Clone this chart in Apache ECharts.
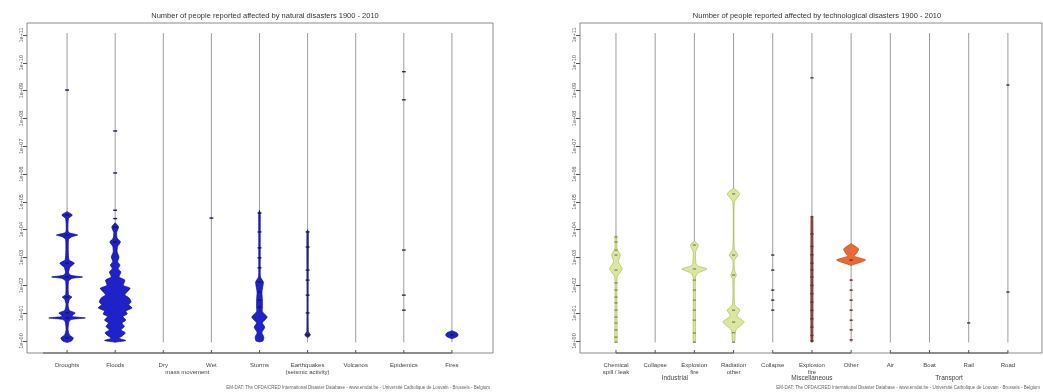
<!DOCTYPE html>
<html>
<head>
<meta charset="utf-8">
<script src="https://cdn.jsdelivr.net/npm/echarts@6/dist/echarts.min.js"></script>
<style>
  html, body { margin: 0; background: #fff; }
  #chart { width: 1043px; height: 392px; }
</style>
</head>
<body>
<div id="chart"></div>
<script>
// y axis is in decades (log10 of people affected), one tick per decade
const yTickValues = [0, 1, 2, 3, 4, 5, 6, 7, 8, 9, 10, 11];
const yTickLabels = ["1e+00", "1e+01", "1e+02", "1e+03", "1e+04", "1e+05",
  "1e+06", "1e+07", "1e+08", "1e+09", "1e+10", "1e+11"];

// ---- natural disasters ----
const natCategories = ["Droughts", "Floods", "Dry", "Wet", "Storms",
  "Earthquakes\n(seismic activity)", "Volcanos", "Epidemics", "Fires"];
const natSpanLabels = [{ from: 3, to: 4, name: "mass movement" }];
const natAxisGroups = [{ from: 0.5, to: 9, name: "" }];

// bean outlines: [level, half width as a share of the category spacing]
const natProfiles = [
  [[-0.05, 0], [0.0, 0.09], [0.11, 0.13], [0.22, 0.05], [0.4, 0.02], [0.7, 0.04], [0.78, 0.1],
   [0.83, 0.38], [0.88, 0.1], [0.95, 0.13], [1.01, 0.17], [1.1, 0.05], [1.3, 0.02], [1.5, 0.05],
   [1.58, 0.1], [1.66, 0.03], [2.15, 0.03], [2.25, 0.1], [2.3, 0.32], [2.36, 0.08], [2.45, 0.03],
   [2.65, 0.06], [2.8, 0.15], [2.92, 0.04], [3.65, 0.03], [3.75, 0.1], [3.81, 0.22], [3.88, 0.06],
   [3.95, 0.02], [4.4, 0.03], [4.53, 0.11], [4.65, 0]],
  [[-0.04, 0], [0.02, 0.22], [0.1, 0.08], [0.2, 0.16], [0.3, 0.21], [0.4, 0.12], [0.52, 0.19],
   [0.65, 0.14], [0.75, 0.22], [0.88, 0.16], [0.97, 0.25], [1.08, 0.22], [1.19, 0.35], [1.3, 0.28],
   [1.4, 0.33], [1.55, 0.29], [1.65, 0.2], [1.75, 0.24], [1.9, 0.31], [2.0, 0.17], [2.19, 0.2],
   [2.3, 0.08], [2.48, 0.12], [2.6, 0.06], [2.73, 0.1], [2.85, 0.05], [3.02, 0.08], [3.2, 0.04],
   [3.4, 0.05], [3.56, 0.11], [3.7, 0.04], [3.9, 0.03], [4.1, 0.07], [4.25, 0]],
  [],
  [],
  [[-0.03, 0], [0.0, 0.07], [0.14, 0.09], [0.3, 0.05], [0.5, 0.11], [0.65, 0.06], [0.86, 0.16],
   [1.05, 0.06], [1.22, 0.06], [1.47, 0.06], [1.76, 0.05], [2.12, 0.08], [2.3, 0.02], [2.63, 0.015],
   [2.99, 0.015], [3.35, 0.015], [3.92, 0.015], [4.6, 0.015], [4.7, 0]],
  [[0.12, 0], [0.22, 0.06], [0.35, 0.015], [3.92, 0.015], [4.0, 0]],
  [],
  [],
  [[0.08, 0], [0.15, 0.1], [0.22, 0.13], [0.3, 0.1], [0.37, 0]]
];
const natPoints = [
  [9.02, 4.53, 3.81, 2.8, 2.3, 1.58, 1.01, 0.83, 0.11],
  [7.55, 6.04, 4.7, 4.4, 4.1, 3.56],
  [],
  [4.42],
  [4.6, 3.92, 3.35, 2.99, 2.63, 2.12, 1.76, 1.47, 1.22],
  [3.92, 3.38, 2.55, 2.19, 1.65, 1.01, 0.22],
  [],
  [9.68, 8.67, 3.27, 1.65, 1.11],
  [0.22]
];
const natTones = ["blue", "blue", "blue", "blue", "blue", "navy", "blue", "grey", "blue"];

// ---- technological disasters ----
const techCategories = ["Chemical\nspill / leak", "Collapse", "Explosion\nfire", "Radiation\nother",
  "Collapse", "Explosion\nfire", "Other", "Air", "Boat", "Rail", "Road"];
const techAxisGroups = [
  { from: 1, to: 4, name: "Industrial" },
  { from: 5, to: 7, name: "Miscellaneous" },
  { from: 8, to: 11, name: "Transport" }
];
const techProfiles = [
  [[-0.05, 0], [0.0, 0.03], [2.3, 0.03], [2.59, 0.16], [2.85, 0.06], [3.09, 0.11], [3.3, 0.03],
   [3.74, 0.02], [3.8, 0]],
  [],
  [[-0.05, 0], [0.0, 0.03], [2.3, 0.03], [2.45, 0.1], [2.59, 0.32], [2.7, 0.08], [2.8, 0.04],
   [3.2, 0.03], [3.45, 0.1], [3.6, 0]],
  [[-0.05, 0], [0.0, 0.03], [0.4, 0.06], [0.68, 0.27], [0.9, 0.08], [1.11, 0.16], [1.3, 0.03],
   [2.2, 0.02], [2.37, 0.07], [2.55, 0.02], [2.9, 0.02], [3.09, 0.11], [3.3, 0.02], [5.0, 0.02],
   [5.29, 0.16], [5.5, 0]],
  [],
  [[-0.05, 0], [0.0, 0.025], [4.4, 0.025], [4.5, 0]],
  [[2.72, 0], [2.91, 0.37], [3.05, 0.08], [3.12, 0.12], [3.31, 0.19], [3.5, 0]],
  [],
  [],
  [],
  []
];
const techPoints = [
  [3.74, 3.56, 3.27, 3.09, 2.55, 2.09, 1.83, 1.58, 1.37, 1.11, 0.86, 0.65, 0.4, 0.14, -0.04],
  [],
  [3.45, 2.59, 2.19, 1.83, 1.47, 1.11, 0.75, 0.29, -0.04],
  [5.29, 3.09, 2.37, 1.11, 0.68, 0.3, -0.04],
  [3.09, 2.55, 1.83, 1.47, 1.11],
  [9.46, 4.46, 3.85, 3.4, 3.1, 2.8, 2.55, 2.3, 2.0, 1.7, 1.4, 1.1, 0.8, 0.5, 0.2, 0.0],
  [2.91, 2.19, 1.83, 1.47, 1.11, 0.75, 0.4, 0.04],
  [],
  [],
  [0.65],
  [9.2, 1.76]
];
const techTones = ["green", "green", "green", "green", "grey", "maroon", "orange",
  "grey", "grey", "grey", "grey"];

const TONES = {
  blue:   { fill: "#1f22c8", stroke: "#0b0b86", line: "#141466" },
  navy:   { fill: "#2a2a9a", stroke: "#1a1a66", line: "#1a1a44" },
  green:  { fill: "#dbe7a0", stroke: "#aabd52", line: "#7f8f6a" },
  grey:   { fill: "#777", stroke: "#555", line: "#333" },
  maroon: { fill: "#8a4a4a", stroke: "#6e3333", line: "#5a3535" },
  orange: { fill: "#ea6a35", stroke: "#c2401c", line: "#6b2a14" }
};

const Y_MIN = -0.43, Y_MAX = 11.43;
const STEM_TOP = 11.07, STEM_BOTTOM = -0.05;
const FONT = "Liberation Sans, Arial, sans-serif";

function beanRenderer(profiles, points, tones) {
  return function (params, api) {
    const i = params.dataIndex;
    const x = i + 1;
    const unit = api.size([1, 0])[0];
    const tone = TONES[tones[i]];
    const children = [];
    const t = api.coord([x, STEM_TOP]);
    const b = api.coord([x, STEM_BOTTOM]);
    children.push({
      type: "line",
      shape: { x1: t[0], y1: t[1], x2: b[0], y2: b[1] },
      style: { stroke: "#9c9c9c", lineWidth: 1 }
    });
    const prof = profiles[i];
    if (prof.length) {
      const left = prof.map(([lv, hw]) => {
        const p = api.coord([x, lv]);
        return [p[0] - hw * unit, p[1]];
      });
      const right = prof.map(([lv, hw]) => {
        const p = api.coord([x, lv]);
        return [p[0] + hw * unit, p[1]];
      }).reverse();
      children.push({
        type: "polygon",
        shape: { points: left.concat(right), smooth: 0.2 },
        style: { fill: tone.fill, stroke: tone.stroke, lineWidth: 0.7 }
      });
    }
    points[i].forEach((lv) => {
      const p = api.coord([x, lv]);
      children.push({
        type: "line",
        shape: { x1: p[0] - 0.04 * unit, y1: p[1], x2: p[0] + 0.04 * unit, y2: p[1] },
        style: { stroke: tone.line, lineWidth: 1.4 }
      });
    });
    return { type: "group", children };
  };
}

// separate axis lines under groups of categories, with a group caption
function groupAxisRenderer(groups, labelY) {
  return function (params, api) {
    const g = groups[params.dataIndex];
    const a = api.coord([g.from, Y_MIN]);
    const z = api.coord([g.to, Y_MIN]);
    const children = [{
      type: "line",
      shape: { x1: a[0], y1: a[1], x2: z[0], y2: z[1] },
      style: { stroke: "#555", lineWidth: 1 }
    }];
    for (let k = Math.ceil(g.from); k <= g.to; k++) {
      const p = api.coord([k, Y_MIN]);
      children.push({
        type: "line",
        shape: { x1: p[0], y1: p[1], x2: p[0], y2: p[1] - 3 },
        style: { stroke: "#555", lineWidth: 1 }
      });
    }
    if (g.name) {
      children.push({
        type: "text",
        style: {
          text: g.name, x: (a[0] + z[0]) / 2, y: labelY,
          align: "center", verticalAlign: "middle",
          fontSize: 6.5, fill: "#444", fontFamily: FONT
        }
      });
    }
    return { type: "group", children };
  };
}

function spanLabelRenderer(spans, labelY) {
  return function (params, api) {
    const s = spans[params.dataIndex];
    const a = api.coord([s.from, Y_MIN]);
    const z = api.coord([s.to, Y_MIN]);
    return {
      type: "text",
      style: {
        text: s.name, x: (a[0] + z[0]) / 2, y: labelY,
        align: "center", verticalAlign: "middle",
        fontSize: 6, fill: "#444", fontFamily: FONT
      }
    };
  };
}

function yAxisFor(gridIndex) {
  return {
    type: "value", gridIndex, min: Y_MIN, max: Y_MAX,
    splitLine: { show: false },
    axisLine: { show: false },
    axisTick: { show: true, length: 4, customValues: yTickValues, lineStyle: { color: "#555" } },
    axisLabel: {
      customValues: yTickValues, rotate: 90, margin: 3,
      fontSize: 5.5, color: "#555", fontFamily: FONT,
      formatter: (v) => yTickLabels[yTickValues.indexOf(Math.round(v))] || ""
    }
  };
}

function xAxisFor(gridIndex, cats, min, max) {
  const idx = cats.map((_, i) => i + 1);
  return {
    type: "value", gridIndex, min, max,
    splitLine: { show: false },
    axisLine: { show: false },
    axisTick: { show: false },
    axisLabel: {
      customValues: idx, margin: 9, fontSize: 6, lineHeight: 7,
      color: "#444", fontFamily: FONT, verticalAlign: "top",
      formatter: (v) => cats[Math.round(v) - 1] || ""
    }
  };
}

const chart = echarts.init(document.getElementById("chart"));
chart.setOption({
  animation: false,
  backgroundColor: "#fff",
  title: [
    {
      text: "Number of people reported affected by natural disasters 1900 - 2010",
      left: 260, top: 7, textAlign: "center",
      textStyle: { fontSize: 7.5, fontWeight: "normal", color: "#333", fontFamily: FONT }
    },
    {
      text: "Number of people reported affected by technological disasters 1900 - 2010",
      left: 812, top: 7, textAlign: "center",
      textStyle: { fontSize: 7.5, fontWeight: "normal", color: "#333", fontFamily: FONT }
    }
  ],
  grid: [
    { left: 27, top: 23, width: 466, bottom: 39, show: true, borderColor: "#8a8a8a", borderWidth: 1 },
    { left: 580, top: 23, right: 1, bottom: 39, show: true, borderColor: "#8a8a8a", borderWidth: 1 }
  ],
  xAxis: [
    xAxisFor(0, natCategories, 0.167, 9.854),
    xAxisFor(1, techCategories, 0.082, 11.87)
  ],
  yAxis: [yAxisFor(0), yAxisFor(1)],
  series: [
    {
      type: "custom", xAxisIndex: 0, yAxisIndex: 0, clip: false,
      data: natCategories.map((_, i) => [i + 1]),
      renderItem: beanRenderer(natProfiles, natPoints, natTones)
    },
    {
      type: "custom", xAxisIndex: 0, yAxisIndex: 0, clip: false,
      data: natAxisGroups.map((g) => [g.from]),
      renderItem: groupAxisRenderer(natAxisGroups, 378)
    },
    {
      type: "custom", xAxisIndex: 0, yAxisIndex: 0, clip: false,
      data: natSpanLabels.map((s) => [s.from]),
      renderItem: spanLabelRenderer(natSpanLabels, 372)
    },
    {
      type: "custom", xAxisIndex: 1, yAxisIndex: 1, clip: false,
      data: techCategories.map((_, i) => [i + 1]),
      renderItem: beanRenderer(techProfiles, techPoints, techTones)
    },
    {
      type: "custom", xAxisIndex: 1, yAxisIndex: 1, clip: false,
      data: techAxisGroups.map((g) => [g.from]),
      renderItem: groupAxisRenderer(techAxisGroups, 378)
    }
  ],
  graphic: [
    {
      type: "text", right: 1043 - 490, bottom: 2,
      style: {
        text: "EM-DAT: The OFDA/CRED International Disaster Database - www.emdat.be - Université Catholique de Louvain - Brussels - Belgium",
        fontSize: 4.5, fill: "#666", fontFamily: FONT
      }
    },
    {
      type: "text", right: 3, bottom: 2,
      style: {
        text: "EM-DAT: The OFDA/CRED International Disaster Database - www.emdat.be - Université Catholique de Louvain - Brussels - Belgium",
        fontSize: 4.5, fill: "#666", fontFamily: FONT
      }
    }
  ]
});
</script>
</body>
</html>
